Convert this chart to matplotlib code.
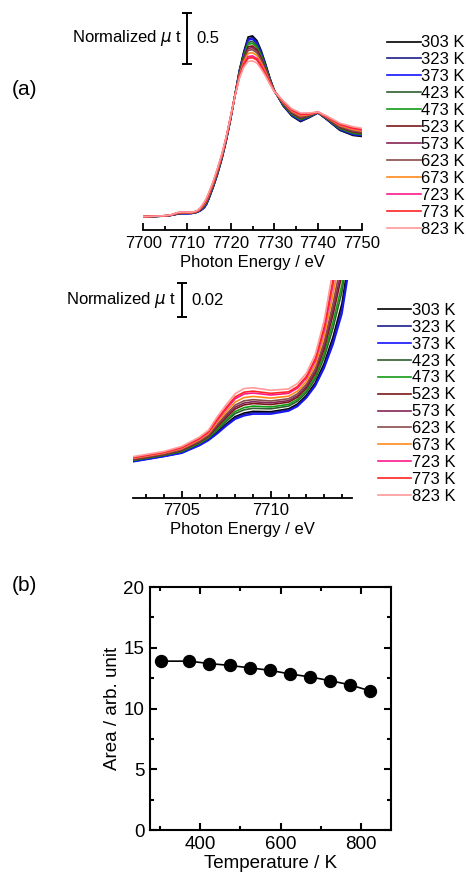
import matplotlib
matplotlib.use("Agg")
import matplotlib.pyplot as plt
from matplotlib.ticker import MultipleLocator, FixedLocator

plt.rcParams['font.family'] = ['Liberation Sans', 'DejaVu Sans']

# energy grid (eV) shared by all spectra
energy = [7700, 7702, 7704, 7705, 7706, 7706.5, 7707, 7707.5, 7708, 7708.5,
          7709, 7710, 7711, 7711.5, 7712, 7712.5, 7713, 7713.5, 7714, 7714.5,
          7715, 7716, 7717, 7718, 7719, 7720, 7721, 7722, 7723, 7724,
          7725, 7726, 7727, 7728, 7729, 7730, 7732, 7734, 7736, 7738,
          7740, 7742, 7745, 7748, 7750]

# normalized mu t
mu_303 = [.0022, .0048, .0083, .0104, .0150, .0181, .0225, .0273, .0315, .0336,
          .0346, .0344, .0361, .0389, .0440, .0514, .0628, .0784, .098, .132,
          .175, .29, .42, .57, .75, .96, 1.20, 1.44, 1.62, 1.765,
          1.775, 1.73, 1.63, 1.50, 1.36, 1.24, 1.09, .99, .935, .975,
          1.02, .955, .85, .80, .79]
mu_323 = [.0021, .0047, .0082, .0102, .0148, .0178, .0220, .0266, .0308, .0328,
          .0338, .0337, .0355, .0382, .0432, .0504, .0614, .0762, .095, .128,
          .180, .294, .424, .574, .753, .962, 1.199, 1.434, 1.610, 1.748,
          1.758, 1.715, 1.617, 1.492, 1.356, 1.239, 1.094, .995, .941, .978,
          1.021, .957, .855, .806, .796]
mu_373 = [.0020, .0045, .0080, .0100, .0145, .0175, .0215, .0260, .0300, .0320,
          .0330, .0330, .0348, .0375, .0425, .0495, .0600, .0740, .092, .125,
          .183, .298, .428, .577, .755, .964, 1.199, 1.430, 1.600, 1.734,
          1.743, 1.701, 1.607, 1.484, 1.352, 1.239, 1.097, .999, .946, .981,
          1.021, .960, .859, .811, .800]
mu_423 = [.0024, .0052, .0087, .0109, .0156, .0188, .0237, .0288, .0333, .0355,
          .0364, .0361, .0377, .0405, .0457, .0536, .0662, .0837, .105, .139,
          .189, .303, .433, .581, .759, .967, 1.198, 1.422, 1.587, 1.712,
          1.721, 1.682, 1.590, 1.474, 1.347, 1.238, 1.101, 1.005, .954, .985,
          1.022, .963, .865, .819, .808]
mu_473 = [.0026, .0054, .0089, .0112, .0160, .0193, .0245, .0298, .0345, .0368,
          .0377, .0372, .0387, .0416, .0469, .0551, .0684, .0872, .109, .145,
          .195, .308, .438, .585, .762, .969, 1.197, 1.416, 1.575, 1.693,
          1.702, 1.664, 1.576, 1.464, 1.342, 1.237, 1.105, 1.011, .961, .989,
          1.023, .966, .871, .826, .814]
mu_523 = [.0028, .0057, .0092, .0116, .0165, .0199, .0255, .0310, .0360, .0384,
          .0392, .0386, .0400, .0429, .0483, .0569, .0712, .0916, .115, .151,
          .201, .314, .444, .590, .766, .972, 1.196, 1.408, 1.560, 1.669,
          1.677, 1.642, 1.558, 1.452, 1.336, 1.236, 1.110, 1.018, .969, .993,
          1.024, .969, .878, .834, .822]
mu_573 = [.0029, .0059, .0094, .0119, .0169, .0203, .0262, .0319, .0371, .0395,
          .0403, .0396, .0409, .0438, .0493, .0582, .0732, .0947, .119, .156,
          .206, .318, .448, .594, .769, .974, 1.195, 1.402, 1.550, 1.652,
          1.660, 1.627, 1.545, 1.444, 1.332, 1.235, 1.114, 1.023, .975, .996,
          1.025, .971, .883, .840, .828]
mu_623 = [.0031, .0062, .0097, .0122, .0173, .0208, .0270, .0329, .0383, .0408,
          .0415, .0407, .0420, .0449, .0505, .0597, .0754, .0982, .124, .161,
          .211, .323, .453, .598, .772, .977, 1.195, 1.396, 1.538, 1.633,
          1.640, 1.609, 1.531, 1.434, 1.327, 1.235, 1.118, 1.029, .982, 1.000,
          1.026, .974, .889, .847, .834]
mu_673 = [.0033, .0065, .0100, .0127, .0179, .0215, .0282, .0344, .0401, .0427,
          .0434, .0424, .0435, .0465, .0522, .0619, .0788, .1035, .131, .169,
          .219, .330, .460, .604, .777, .980, 1.193, 1.386, 1.520, 1.604,
          1.611, 1.583, 1.509, 1.420, 1.320, 1.233, 1.124, 1.037, .992, 1.005,
          1.027, .978, .897, .857, .844]
mu_723 = [.0036, .0069, .0104, .0132, .0185, .0223, .0295, .0360, .0420, .0448,
          .0454, .0442, .0452, .0483, .0541, .0643, .0824, .1092, .138, .177,
          .227, .338, .468, .610, .782, .984, 1.192, 1.376, 1.500, 1.573,
          1.579, 1.554, 1.486, 1.404, 1.312, 1.232, 1.130, 1.046, 1.003, 1.011,
          1.028, .983, .906, .868, .854]
mu_773 = [.0037, .0071, .0106, .0135, .0189, .0227, .0302, .0369, .0431, .0459,
          .0465, .0452, .0461, .0492, .0551, .0656, .0844, .1123, .142, .182,
          .232, .342, .472, .614, .785, .986, 1.191, 1.370, 1.490, 1.556,
          1.562, 1.539, 1.473, 1.396, 1.308, 1.231, 1.134, 1.051, 1.009, 1.014,
          1.029, .985, .911, .874, .860]
mu_823 = [.0040, .0075, .0110, .0140, .0195, .0235, .0315, .0385, .0450, .0480,
          .0485, .0470, .0478, .0510, .0570, .0680, .0880, .1180, .150, .190,
          .240, .350, .480, .620, .790, .990, 1.190, 1.360, 1.470, 1.525,
          1.530, 1.510, 1.450, 1.380, 1.300, 1.230, 1.140, 1.060, 1.020, 1.020,
          1.030, .990, .920, .885, .870]

temp_labels = ['303 K', '323 K', '373 K', '423 K', '473 K', '523 K',
               '573 K', '623 K', '673 K', '723 K', '773 K', '823 K']
spectra = [mu_303, mu_323, mu_373, mu_423, mu_473, mu_523,
           mu_573, mu_623, mu_673, mu_723, mu_773, mu_823]
colors = ['#000000', '#1c1c8c', '#1414ff', '#2f5f2f', '#159a15', '#7a1616',
          '#852555', '#8a4b4b', '#ff8a1c', '#ff1a8c', '#ff2424', '#ff9a9a']

# panel (b)
temp_b = [303, 373, 423, 473, 523, 573, 623, 673, 723, 773, 823]
area_b = [13.9, 13.9, 13.7, 13.55, 13.35, 13.15, 12.85, 12.6, 12.3, 11.95, 11.45]

fig = plt.figure(figsize=(4.66, 8.75), dpi=100)


def xanes_axes(ax, bar_x, bar_mid, bar_half, bar_text):
    for name in ['left', 'right', 'top']:
        ax.spines[name].set_visible(False)
    ax.spines['bottom'].set_linewidth(1.3)
    ax.set_yticks([])
    ax.tick_params(axis='x', which='both', direction='in', top=False,
                   width=1.3, labelsize=12, pad=4)
    ax.tick_params(axis='x', which='major', length=5)
    ax.tick_params(axis='x', which='minor', length=3)
    ax.set_xlabel('Photon Energy / eV', fontsize=12, labelpad=3)
    ax.errorbar([bar_x], [bar_mid], yerr=[[bar_half], [bar_half]], fmt='none',
                ecolor='black', elinewidth=1.4, capsize=3.6, capthick=1.4)
    ax.annotate('Normalized $\\mu$ t', xy=(bar_x, bar_mid), xytext=(-3.5, 0),
                textcoords='offset points', ha='right', va='center', fontsize=12)
    ax.annotate(bar_text, xy=(bar_x, bar_mid), xytext=(7, 0),
                textcoords='offset points', ha='left', va='center', fontsize=12)


def temp_legend(ax, x0, y0):
    ax.legend(loc='upper left', bbox_to_anchor=(x0, y0), bbox_transform=fig.transFigure,
              frameon=False, fontsize=12, handlelength=2.0, handletextpad=0.05,
              labelspacing=0.116, borderpad=0, borderaxespad=0)


# (a) full XANES
ax1 = fig.add_axes([0.3075, 0.7371, 0.4687, 0.2595])
for mu, c, lab in zip(spectra, colors, temp_labels):
    ax1.plot(energy, mu, color=c, lw=1.2, label=lab)
ax1.set_xlim(7700, 7750)
ax1.set_ylim(-0.1275, 2.098)
ax1.xaxis.set_major_locator(MultipleLocator(10))
ax1.xaxis.set_minor_locator(MultipleLocator(5))
xanes_axes(ax1, 7710, 1.75, 0.25, '0.5')
temp_legend(ax1, 0.831, 0.9596)

# (a) pre-edge zoom
ax2 = fig.add_axes([0.2861, 0.4312, 0.4687, 0.2488])
for mu, c, lab in zip(spectra, colors, temp_labels):
    ax2.plot(energy, mu, color=c, lw=1.2, label=lab)
ax2.set_xlim(7702.28, 7714.55)
ax2.set_ylim(-0.0162, 0.1119)
ax2.xaxis.set_major_locator(FixedLocator([7705, 7710]))
ax2.xaxis.set_minor_locator(MultipleLocator(1))
xanes_axes(ax2, 7705, 0.10, 0.01, '0.02')
temp_legend(ax2, 0.8105, 0.654)

# (b) pre-edge area
ax3 = fig.add_axes([0.3219, 0.0514, 0.5172, 0.2777])
ax3.plot(temp_b, area_b, '-o', color='black', lw=1.2, ms=8.6)
ax3.set_xlim(275, 875)
ax3.set_ylim(0, 20)
ax3.xaxis.set_major_locator(MultipleLocator(200))
ax3.xaxis.set_minor_locator(MultipleLocator(100))
ax3.yaxis.set_major_locator(MultipleLocator(5))
ax3.yaxis.set_minor_locator(MultipleLocator(2.5))
for s in ax3.spines.values():
    s.set_linewidth(1.5)
ax3.tick_params(which='both', direction='in', top=True, right=True,
                width=1.5, labelsize=13.5, pad=4)
ax3.tick_params(which='major', length=5)
ax3.tick_params(which='minor', length=3)
ax3.set_xlabel('Temperature / K', fontsize=13.5, labelpad=2)
ax3.set_ylabel('Area / arb. unit', fontsize=13.5, labelpad=2)

fig.text(0.026, 0.898, '(a)', fontsize=15, va='center', ha='left')
fig.text(0.026, 0.331, '(b)', fontsize=15, va='center', ha='left')

fig.savefig('out.png', dpi=100)
